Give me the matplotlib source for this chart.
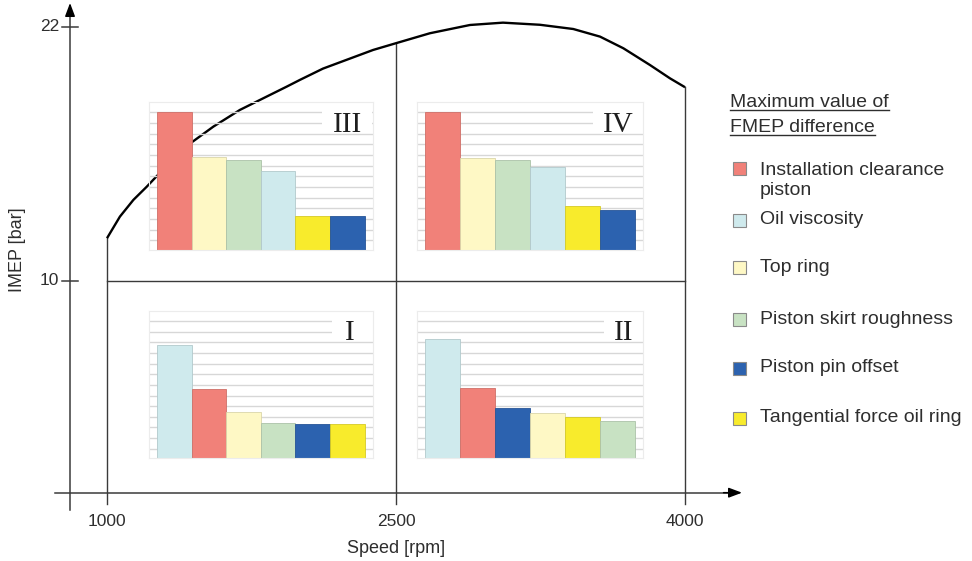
import numpy as np
import matplotlib
matplotlib.use("Agg")
import matplotlib.pyplot as plt
from matplotlib.patches import Rectangle
from matplotlib.lines import Line2D

plt.rcParams['font.family'] = ['Liberation Sans', 'DejaVu Sans']

# ---- full-load IMEP curve ----
speed = [1000, 1067, 1137, 1206, 1258, 1440, 1552, 1690, 1829, 1933, 2002,
         2121, 2381, 2500, 2676, 2884, 3055, 3247, 3420, 3559, 3680, 3818,
         3922, 4000]
imep = [12.02, 13.04, 13.83, 14.45, 14.95, 16.55, 17.29, 18.08, 18.71, 19.18,
        19.50, 20.03, 20.91, 21.23, 21.70, 22.09, 22.20, 22.10, 21.90, 21.54,
        20.99, 20.20, 19.57, 19.15]
xticks = [1000, 2500, 4000]
yticks = [10, 22]

# ---- influence factors ----
factors = ["Installation clearance\npiston", "Oil viscosity", "Top ring",
           "Piston skirt roughness", "Piston pin offset",
           "Tangential force oil ring"]
factor_colors = ["#F18179", "#CFEAED", "#FEF8C5", "#C8E2C3", "#2C62AF", "#F8EB2C"]

# bar order and heights (grid units) for each operating region
order_III = [0, 2, 3, 1, 5, 4]
vals_III = [12.9, 8.74, 8.43, 7.43, 3.21, 3.21]
order_IV = [0, 2, 3, 1, 5, 4]
vals_IV = [12.9, 8.59, 8.43, 7.81, 4.12, 3.75]
order_I = [1, 0, 2, 3, 4, 5]
vals_I = [10.71, 6.56, 4.37, 3.37, 3.24, 3.24]
order_II = [1, 0, 4, 2, 5, 3]
vals_II = [11.25, 6.59, 4.78, 4.22, 3.93, 3.53]

W, H = 972, 561
fig = plt.figure(figsize=(W / 100, H / 100), dpi=100)
ax = fig.add_axes([0, 0, 1, 1])
ax.set_xlim(444.6, 5489.5)
ax.set_ylim(-3.226, 23.27)
ax.axis('off')

axis_c = '#3a3a3a'
text_c = '#2e2e2e'
x0_axis = 808

# axes with arrow heads
ax.plot([730, 4250], [0, 0], color=axis_c, lw=1.1)
ax.plot([x0_axis, x0_axis], [-0.8, 22.7], color=axis_c, lw=1.1)
ax.annotate('', xy=(4296, 0), xytext=(4200, 0),
            arrowprops=dict(arrowstyle='-|>,head_length=0.8,head_width=0.3',
                            color='black', lw=1.1, shrinkA=0, shrinkB=0,
                            mutation_scale=10))
ax.annotate('', xy=(x0_axis, 23.13), xytext=(x0_axis, 22.5),
            arrowprops=dict(arrowstyle='-|>,head_length=0.8,head_width=0.3',
                            color='black', lw=1.1, shrinkA=0, shrinkB=0,
                            mutation_scale=10))

# y ticks and labels
for yv in yticks:
    ax.plot([767, 849], [yv, yv], color=axis_c, lw=1.1)
    ax.text(752, yv, str(yv), ha='right', va='center', fontsize=12.5, color=text_c)

# region dividers and x labels
curve_at = dict(zip(speed, imep))
for xv in xticks:
    ax.plot([xv, xv], [-0.55, curve_at[xv]], color=axis_c, lw=1.0)
    ax.text(xv, -1.34, str(xv), ha='center', va='center', fontsize=12.5, color=text_c)
ax.plot([xticks[0], xticks[-1]], [10, 10], color=axis_c, lw=1.0)

ax.plot(speed, imep, color='black', lw=1.7, solid_joinstyle='round',
        solid_capstyle='butt')

ax.text(2500, -2.62, 'Speed [rpm]', ha='center', va='center', fontsize=13, color=text_c)
ax.text(535, 11.46, 'IMEP [bar]', ha='center', va='center', rotation=90,
        fontsize=13, color=text_c)


def darker(c, f=0.86):
    r, g, b = matplotlib.colors.to_rgb(c)
    return (r * f, g * f, b * f)


def px_box(left, top, right, bottom):
    return [left / W, 1 - bottom / H, (right - left) / W, (bottom - top) / H]


def region_panel(box, order, vals, label, label_x, box_x):
    iax = fig.add_axes(px_box(*box))
    iax.set_facecolor('none')
    iax.set_xlim(-0.73, 5.73)
    iax.set_ylim(0, 13.87)
    iax.set_axisbelow(True)
    iax.set_yticks(np.arange(0.91, 13.5, 1.0))
    iax.set_xticks([])
    iax.tick_params(length=0, labelleft=False, labelbottom=False)
    iax.grid(axis='y', color='#d7d7d7', lw=1.0)
    for s in iax.spines.values():
        s.set_color('#ececec')
        s.set_linewidth(0.8)
    cols = [factor_colors[i] for i in order]
    iax.bar(range(len(vals)), vals, width=1.0, color=cols,
            edgecolor=[darker(c) for c in cols], linewidth=0.6, zorder=2)
    iax.add_patch(Rectangle((box_x, 11.1), 5.73 - box_x, 13.87 - 11.1,
                            facecolor='white', edgecolor='none', zorder=1))
    iax.text(label_x, 11.1, label, ha='right', va='baseline', fontsize=21,
             family=['Liberation Serif', 'DejaVu Serif'], color='#1e1e1e', zorder=3)
    return iax


region_panel((149, 102, 372.5, 250), order_III, vals_III, 'III', 5.42, 4.26)
region_panel((417, 102, 643, 250), order_IV, vals_IV, 'IV', 5.45, 4.29)
region_panel((149, 311, 372.5, 458.3), order_I, vals_I, 'I', 5.21, 4.55)
region_panel((417, 311, 643, 458.3), order_II, vals_II, 'II', 5.45, 4.61)

# ---- legend ----
title_lines = ["Maximum value of", "FMEP difference"]
title_base = [107, 132]
title_texts = []
for t, yb in zip(title_lines, title_base):
    title_texts.append(fig.text(730 / W, 1 - yb / H, t, ha='left', va='baseline',
                                fontsize=14, color=text_c))

item_y = [169, 220, 267, 319, 368, 418]
for lab, col, yc in zip(factors, factor_colors, item_y):
    fig.add_artist(Rectangle((733 / W, 1 - (yc + 6.5) / H), 13 / W, 13 / H,
                             transform=fig.transFigure, facecolor=col,
                             edgecolor='#8a8a8a', lw=0.8))
    ty = yc + 11.5 if '\n' in lab else yc
    fig.text(760 / W, 1 - ty / H, lab, ha='left', va='center', fontsize=14,
             color=text_c, linespacing=1.2)

fig.canvas.draw()
renderer = fig.canvas.get_renderer()
for t, yb in zip(title_texts, title_base):
    bb = t.get_window_extent(renderer)
    yl = 1 - (yb + 3) / H
    fig.add_artist(Line2D([bb.x0 / W, bb.x1 / W], [yl, yl],
                          transform=fig.transFigure, color=text_c, lw=1.0))

fig.savefig('out.png', dpi=100)
